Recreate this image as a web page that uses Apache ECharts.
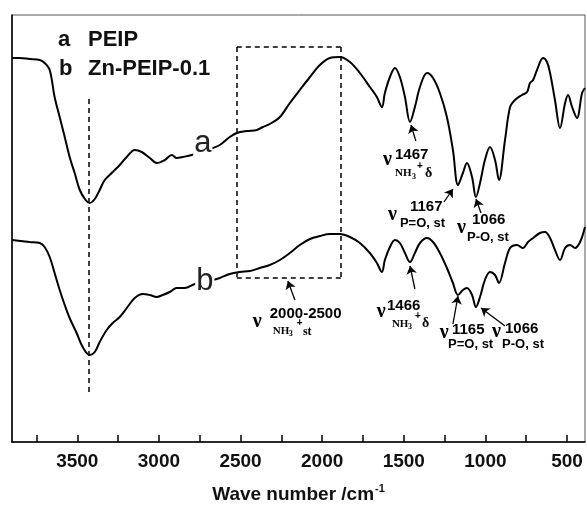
<!DOCTYPE html>
<html><head><meta charset="utf-8">
<script src="https://cdn.jsdelivr.net/npm/echarts@6/dist/echarts.min.js"></script>
<style>html,body{margin:0;padding:0;background:#fff}#c{width:587px;height:510px}</style>
</head><body><div id="c"></div>
<script>
// Wavenumber (cm^-1) and transmittance (arbitrary units) for curve a (PEIP)
const waveA = [3900,3853,3792,3730,3700,3669,3639,3608,3577,3547,3516,3485,3449,3424,3393,3363,3332,3283,3240,3197,3148,3105,3056,3013,2964,2921,2891,2854,2799,2670,2627,2566,2523,2462,2400,2363,2321,2259,2198,2137,2075,2014,1953,1891,1830,1769,1708,1665,1634,1616,1585,1554,1524,1493,1462,1432,1401,1358,1321,1279,1236,1199,1168,1138,1113,1082,1058,1033,1003,972,941,917,880,849,819,776,745,727,708,684,647,623,604,574,543,512,494,469,439,408,390];
const transA = [384,384,383,382,379,372,345,325,305,285,269,252,242,239,243,252,262,270,277,285,292,290,284,279,282,287,284,285,287,294,297,305,309,311,312,315,318,325,339,352,365,377,384,385,380,369,355,345,335,349,365,374,365,345,320,335,355,369,364,349,325,292,257,269,279,265,245,259,282,295,282,262,302,335,342,347,350,359,362,372,384,380,369,342,314,339,347,335,324,349,354];
// Curve b (Zn-PEIP-0.1)
const waveB = [3900,3792,3730,3700,3669,3639,3608,3577,3547,3504,3467,3424,3393,3363,3320,3283,3240,3197,3148,3099,3056,3013,2977,2934,2891,2842,2780,2670,2627,2566,2504,2443,2382,2321,2259,2198,2137,2075,2014,1953,1891,1830,1769,1708,1665,1634,1616,1585,1554,1524,1493,1462,1432,1401,1358,1321,1279,1236,1199,1168,1138,1113,1082,1058,1033,1003,972,941,917,880,849,807,770,739,708,666,635,604,574,543,512,482,451,420,390];
const transB = [202,200,199,195,185,169,152,137,124,109,95,87,90,100,112,119,125,134,144,148,147,145,147,150,154,154,158,162,164,168,170,171,174,177,182,189,197,203,206,208,208,205,199,189,179,170,182,195,202,199,189,180,189,199,204,200,189,174,159,147,152,154,147,135,145,162,170,167,159,179,194,197,194,200,204,209,210,204,192,182,194,197,194,200,215];
const xLabelValues = [3500,3000,2500,2000,1500,1000,500];
const xTickValues = [3750,3500,3250,3000,2750,2500,2250,2000,1750,1500,1250,1000,750,500];
const legendNames = ['PEIP','Zn-PEIP-0.1'];
const curveLetters = ['a','b'];

const chart = echarts.init(document.getElementById('c'), null, {renderer:'canvas'});

const SANS = 'Liberation Sans, Arial, sans-serif';
const SERIF = 'Liberation Serif, Times New Roman, serif';
const styles = {
  nu:   {fontFamily:SERIF, fontWeight:'bold', fontSize:20},
  num:  {fontFamily:SANS, fontWeight:'bold', fontSize:15},
  sub:  {fontFamily:SANS, fontWeight:'bold', fontSize:13},
  nh:   {fontFamily:SERIF, fontWeight:'bold', fontSize:11},
  tiny: {fontFamily:SERIF, fontWeight:'bold', fontSize:8},
  plus: {fontFamily:SANS, fontWeight:'bold', fontSize:10},
  del:  {fontFamily:SERIF, fontWeight:'bold', fontSize:14},
  st:   {fontFamily:SERIF, fontWeight:'bold', fontSize:12}
};
function txt(w, v, text, st){
  return {coord:[w,v], label:Object.assign({show:true, formatter:text, position:'right', distance:0, color:'#000'}, styles[st])};
}
const texts = [
  // a: 1467
  txt(1628,282,'ν','nu'), txt(1554,287,'1467','num'), txt(1554,269,'NH','nh'), txt(1450,265,'3','tiny'), txt(1419,276,'+','plus'), txt(1370,269,'δ','del'),
  // a: 1167
  txt(1597,227,'ν','nu'), txt(1462,235,'1167','num'), txt(1524,219,'P=O, st','sub'),
  // a: 1066
  txt(1174,214,'ν','nu'), txt(1082,222,'1066','num'), txt(1113,205,'P-O, st','sub'),
  // b: 2000-2500
  txt(2425,120,'ν','nu'), txt(2321,128,'2000-2500','num'), txt(2302,111,'NH','nh'), txt(2204,108,'3','tiny'), txt(2155,119,'+','plus'), txt(2118,110,'st','st'),
  // b: 1466
  txt(1665,130,'ν','nu'), txt(1603,136,'1466','num'), txt(1573,118,'NH','nh'), txt(1475,115,'3','tiny'), txt(1432,126,'+','plus'), txt(1389,119,'δ','del'),
  // b: 1165
  txt(1279,109,'ν','nu'), txt(1205,112,'1165','num'), txt(1229,98,'P=O, st','sub'),
  // b: 1066
  txt(960,110,'ν','nu'), txt(880,113,'1066','num'), txt(898,98,'P-O, st','sub')
];
const dashed = [
  [{coord:[3430,343]},{coord:[3430,49]}],
  [{coord:[2523,395]},{coord:[1885,395]}],
  [{coord:[2523,395]},{coord:[2523,164]}],
  [{coord:[1885,395]},{coord:[1885,164]}],
  [{coord:[2523,164]},{coord:[1885,164]}]
];
const arrows = [
  [{coord:[1426,301]},{coord:[1456,317]}],
  [{coord:[1254,240]},{coord:[1199,253]}],
  [{coord:[1027,229]},{coord:[1058,243]}],
  [{coord:[2167,142]},{coord:[2210,161]}],
  [{coord:[1432,153]},{coord:[1462,176]}],
  [{coord:[1199,118]},{coord:[1168,146]}],
  [{coord:[880,116]},{coord:[1027,134]}]
];
function curveLabel(w, v, letter){
  return {coord:[w,v], label:{show:true, formatter:letter, position:'inside', color:'#222', fontFamily:SANS, fontSize:31, fontWeight:'normal', backgroundColor:'#fff', padding:[0,1,0,1], lineHeight:34}};
}

chart.setOption({
  animation:false,
  backgroundColor:'#fff',
  grid:{left:12, right:2, top:15, bottom:68, show:true, borderColor:'#555', borderWidth:1},
  xAxis:{
    type:'value', inverse:true, min:390, max:3900,
    axisLine:{show:true, onZero:false, lineStyle:{color:'#000', width:1.5}},
    axisTick:{show:true, inside:true, length:7, customValues:xTickValues, lineStyle:{color:'#000', width:1.5}},
    axisLabel:{show:true, customValues:xLabelValues, formatter:(v)=>String(v), margin:10, color:'#111', fontFamily:SANS, fontWeight:'bold', fontSize:19},
    splitLine:{show:false},
    name:'{t|Wave number /cm}{s|-1}', nameLocation:'middle', nameGap:41,
    nameTextStyle:{rich:{t:{fontFamily:SANS, fontWeight:'bold', fontSize:19, color:'#111'}, s:{fontFamily:SANS, fontWeight:'bold', fontSize:11, color:'#111', verticalAlign:'top', padding:[0,0,12,1]}}}
  },
  yAxis:{
    type:'value', min:0, max:427,
    axisLine:{show:true, onZero:false, lineStyle:{color:'#000', width:1.5}},
    axisTick:{show:false}, axisLabel:{show:false}, splitLine:{show:false}
  },
  graphic:[
    {type:'text', left:58, top:29, style:{text:'a', fill:'#111', font:'bold 22px '+SANS}},
    {type:'text', left:88, top:29, style:{text:legendNames[0], fill:'#111', font:'bold 22px '+SANS}},
    {type:'text', left:59, top:58, style:{text:'b', fill:'#111', font:'bold 22px '+SANS}},
    {type:'text', left:88, top:58, style:{text:legendNames[1], fill:'#111', font:'bold 22px '+SANS}}
  ],
  series:[
    {name:'a', type:'line', data:waveA.map((w,i)=>[w,transA[i]]), showSymbol:false, smooth:0.35,
     lineStyle:{color:'#000', width:2}, z:3,
     markPoint:{symbol:'circle', symbolSize:0, silent:true, data:[curveLabel(2731,299,curveLetters[0])]}},
    {name:'b', type:'line', data:waveB.map((w,i)=>[w,transB[i]]), showSymbol:false, smooth:0.35,
     lineStyle:{color:'#000', width:2}, z:3,
     markPoint:{symbol:'circle', symbolSize:0, silent:true, data:[curveLabel(2719,161,curveLetters[1])]}},
    {name:'dashed', type:'line', data:[], z:2,
     markLine:{silent:true, symbol:['none','none'], label:{show:false}, lineStyle:{color:'#000', width:1.5, type:[5,4]}, data:dashed}},
    {name:'arrows', type:'line', data:[], z:4,
     markLine:{silent:true, symbol:['none','arrow'], symbolSize:8, label:{show:false}, lineStyle:{color:'#000', width:1.3, type:'solid'}, itemStyle:{color:'#000'}, data:arrows}},
    {name:'texts', type:'line', data:[], z:5,
     markPoint:{symbol:'circle', symbolSize:0, silent:true, data:texts}}
  ]
});
</script></body></html>
